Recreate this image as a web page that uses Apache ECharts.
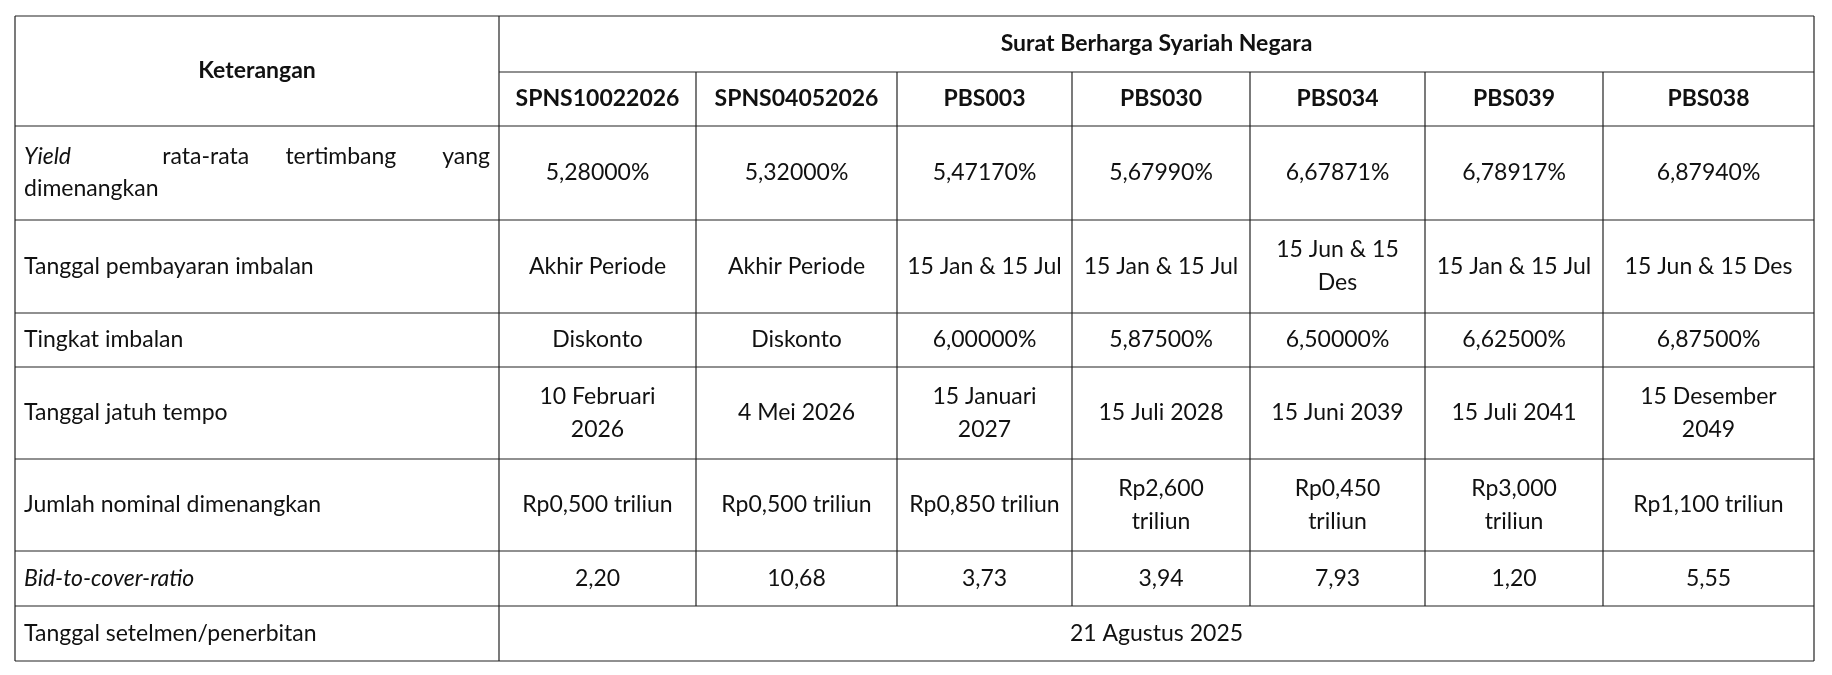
<!DOCTYPE html>
<html>
<head>
<meta charset="utf-8">
<script src="https://cdn.jsdelivr.net/npm/echarts@6/dist/echarts.min.js"></script>
<style>html,body{margin:0;padding:0;background:#fff}#main{width:1832px;height:675px}</style>
</head>
<body>
<div id="main"></div>
<script>
// data
var groupTitle = 'Surat Berharga Syariah Negara';
var firstHeader = 'Keterangan';
var series = ['SPNS10022026', 'SPNS04052026', 'PBS003', 'PBS030', 'PBS034', 'PBS039', 'PBS038'];
var rowLabels = [
	['{i|Yield}', 'rata-rata', 'tertimbang', 'yang', '\ndimenangkan'],
	'Tanggal pembayaran imbalan',
	'Tingkat imbalan',
	'Tanggal jatuh tempo',
	'Jumlah nominal dimenangkan',
	'{i|Bid-to-cover-ratio}',
	'Tanggal setelmen/penerbitan'
];
var yieldWon = ['5,28000%', '5,32000%', '5,47170%', '5,67990%', '6,67871%', '6,78917%', '6,87940%'];
var payDate = ['Akhir Periode', 'Akhir Periode', '15 Jan & 15 Jul', '15 Jan & 15 Jul', '15 Jun & 15\nDes', '15 Jan & 15 Jul', '15 Jun & 15 Des'];
var coupon = ['Diskonto', 'Diskonto', '6,00000%', '5,87500%', '6,50000%', '6,62500%', '6,87500%'];
var maturity = ['10 Februari\n2026', '4 Mei 2026', '15 Januari\n2027', '15 Juli 2028', '15 Juni 2039', '15 Juli 2041', '15 Desember\n2049'];
var nominal = ['Rp0,500 triliun', 'Rp0,500 triliun', 'Rp0,850 triliun', 'Rp2,600\ntriliun', 'Rp0,450\ntriliun', 'Rp3,000\ntriliun', 'Rp1,100 triliun'];
var btc = ['2,20', '10,68', '3,73', '3,94', '7,93', '1,20', '5,55'];
var settlement = '21 Agustus 2025';

// layout
var colX = [15, 499, 696, 897, 1072, 1250, 1425, 1603, 1814];
var rowY = [16, 72, 126, 220, 313, 367, 459, 551, 606, 661];
var font = 'Lato, "Open Sans", sans-serif';
var fs = 23;

var chart = echarts.init(document.getElementById('main'));
var els = [];

function line(x1, y1, x2, y2) {
	els.push({type: 'line', shape: {x1: x1, y1: y1, x2: x2, y2: y2}, style: {stroke: '#222', lineWidth: 1.2}});
}
function text(t, x, y, align, bold) {
	els.push({type: 'text', x: x, y: y, style: {
		text: t, x: 0, y: 0, align: align || 'center', verticalAlign: 'middle',
		font: (bold ? 'bold ' : '') + fs + 'px ' + font, fill: '#111', lineHeight: 33,
		rich: {i: {fontStyle: 'italic', fontSize: fs, fontFamily: font, fill: '#111'}}
	}});
}

// grid lines
var L = colX[0], R = colX[colX.length - 1];
line(L, rowY[0], R, rowY[0]);
line(colX[1], rowY[1], R, rowY[1]);
for (var r = 2; r < rowY.length; r++) line(L, rowY[r], R, rowY[r]);
line(L, rowY[0], L, rowY[rowY.length - 1]);
line(R, rowY[0], R, rowY[rowY.length - 1]);
line(colX[1], rowY[0], colX[1], rowY[rowY.length - 1]);
for (var c = 2; c < colX.length - 1; c++) line(colX[c], rowY[1], colX[c], rowY[rowY.length - 2]);

// headers
text(firstHeader, (colX[0] + colX[1]) / 2, (rowY[0] + rowY[2]) / 2, 'center', true);
text(groupTitle, (colX[1] + R) / 2, (rowY[0] + rowY[1]) / 2, 'center', true);
series.forEach(function (s, i) {
	text(s, (colX[i + 1] + colX[i + 2]) / 2, (rowY[1] + rowY[2]) / 2, 'center', true);
});

// row labels
var lx = colX[0] + 9;
rowLabels.forEach(function (lab, r) {
	var cy = (rowY[r + 2] + rowY[r + 3]) / 2;
	if (Array.isArray(lab)) {
		// justified first line
		var w = colX[1] - 9 - lx;
		text(lab[0], lx, cy - 16, 'left');
		text(lab[1], lx + w * 0.39, cy - 16, 'center');
		text(lab[2], lx + w * 0.68, cy - 16, 'center');
		text(lab[3], lx + w, cy - 16, 'right');
		text(lab[4].trim(), lx, cy + 16, 'left');
	} else {
		text(lab, lx, cy, 'left');
	}
});

// values
[yieldWon, payDate, coupon, maturity, nominal, btc].forEach(function (arr, r) {
	var cy = (rowY[r + 2] + rowY[r + 3]) / 2;
	arr.forEach(function (v, i) {
		text(v, (colX[i + 1] + colX[i + 2]) / 2, cy, 'center');
	});
});
text(settlement, (colX[1] + R) / 2, (rowY[8] + rowY[9]) / 2, 'center');

chart.setOption({animation: false, graphic: {elements: els}});
</script>
</body>
</html>
